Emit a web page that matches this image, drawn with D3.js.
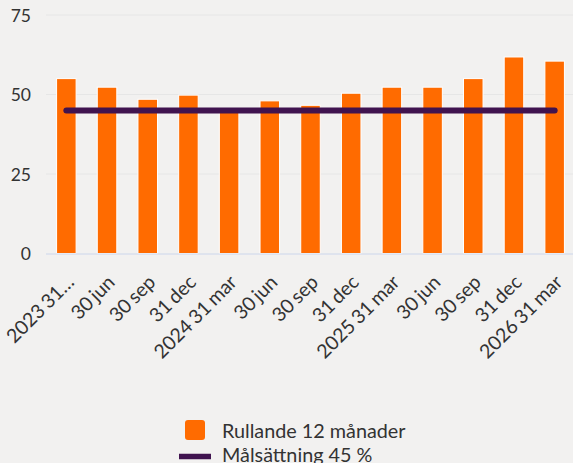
<!DOCTYPE html>
<html><head><meta charset="utf-8">
<script src="https://cdn.jsdelivr.net/npm/d3@7"></script>
<style>
html,body{margin:0;padding:0;background:#f2f1f0;}
svg{display:block;font-family:Lato, "Open Sans", sans-serif;}
</style></head>
<body>
<svg id="chart" width="573" height="463"></svg>
<script>
const categories = ["2023 31…","30 jun","30 sep","31 dec","2024 31 mar","30 jun","30 sep","31 dec","2025 31 mar","30 jun","30 sep","31 dec","2026 31 mar"];
const rolling12 = [55, 52.3, 48.5, 49.8, 45, 48, 46.6, 50.4, 52.3, 52.3, 55, 61.8, 60.5];
const target = [45,45,45,45,45,45,45,45,45,45,45,45,45];
const yTicks = [0, 25, 50, 75];
const seriesNames = ["Rullande 12 månader", "Målsättning 45 %"];
const colors = {bar:"#ff6b00", line:"#40134f"};

(function(){
const svg = d3.select("#chart");
const W = 573, H = 463;
const mLeft = 46, mRight = 575, mTop = 15, mBottom = 253.5;

const x = d3.scaleBand().domain(d3.range(categories.length)).range([mLeft, mRight]).paddingInner(0.52).paddingOuter(0.26);
const y = d3.scaleLinear().domain([0, 75]).range([mBottom, mTop]);

// gridlines
svg.append("g").selectAll("line").data(yTicks.filter(d=>d>0)).join("line")
  .attr("x1", mLeft).attr("x2", W).attr("y1", d=>y(d)).attr("y2", d=>y(d))
  .attr("stroke", "#e6e6e6").attr("stroke-width", 1);

// y labels
const yAxis = d3.axisLeft(y).tickValues(yTicks).tickSize(0).tickPadding(0);
const yg = svg.append("g").attr("transform", `translate(${31},0)`).call(yAxis);
yg.select(".domain").remove();
yg.selectAll("text").attr("font-size", 17.5).attr("fill", "#333").attr("font-family","Lato, sans-serif").attr("dy","0.35em");

// bars
svg.append("g").selectAll("rect").data(rolling12).join("rect")
  .attr("x", (d,i)=>x(i)).attr("width", x.bandwidth())
  .attr("y", d=>y(d)).attr("height", d=>y(0)-y(d))
  .attr("fill", colors.bar).attr("stroke", "#ffffff").attr("stroke-width", 1);

// baseline
svg.append("line").attr("x1", mLeft).attr("x2", W).attr("y1", y(0)+0.5).attr("y2", y(0)+0.5)
  .attr("stroke", "#ccd6eb").attr("stroke-width", 1);

// target line
const line = d3.line().x((d,i)=>x(i)+x.bandwidth()/2).y(d=>y(d));
svg.append("path").datum(target).attr("d", line).attr("fill","none")
  .attr("stroke", colors.line).attr("stroke-width", 6).attr("stroke-linecap","round");

// x labels
const xAxis = d3.axisBottom(x).tickFormat(i=>categories[i]).tickSize(0).tickPadding(0);
const xg = svg.append("g").attr("transform", `translate(0,${mBottom})`).call(xAxis);
xg.select(".domain").remove();
xg.selectAll("text")
  .attr("font-size", 19.5).attr("fill", "#333").attr("font-family","Lato, sans-serif")
  .attr("word-spacing", "-1.5px")
  .attr("text-anchor", "end").attr("dy", null).attr("y", null)
  .attr("transform", "translate(9,30) rotate(-45)");

// legend
const lg = svg.append("g");
lg.append("rect").attr("x", 185).attr("y", 420).attr("width", 20).attr("height", 20).attr("rx", 3).attr("fill", colors.bar);
lg.append("text").attr("x", 222).attr("y", 437.5).attr("font-size", 19.8).attr("fill", "#333").text(seriesNames[0]);
lg.append("line").attr("x1", 179).attr("x2", 211).attr("y1", 456.5).attr("y2", 456.5).attr("stroke", colors.line).attr("stroke-width", 5.5);
lg.append("text").attr("x", 222).attr("y", 462).attr("font-size", 19.8).attr("fill", "#333").text(seriesNames[1]);
})();
</script>
</body></html>
